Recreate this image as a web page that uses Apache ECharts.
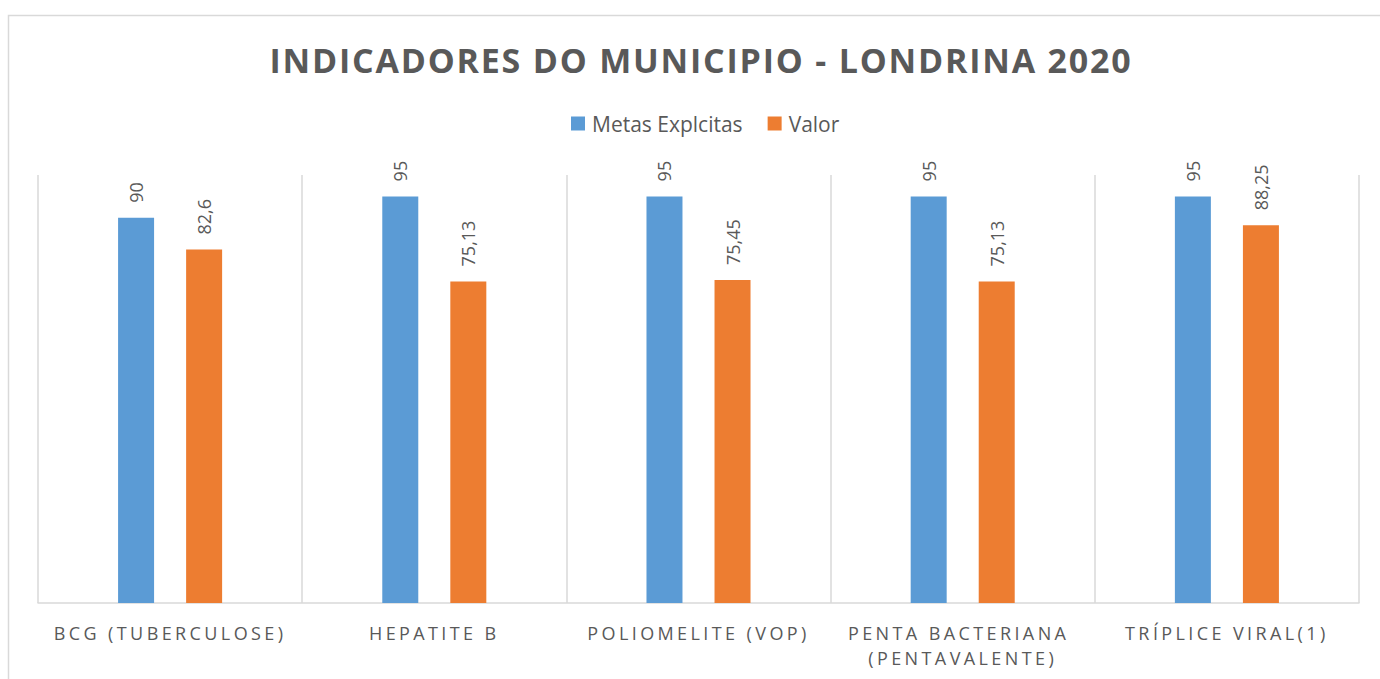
<!DOCTYPE html>
<html>
<head>
<meta charset="utf-8">
<script src="https://cdn.jsdelivr.net/npm/echarts@6/dist/echarts.min.js"></script>
<style>
	html, body { margin: 0; padding: 0; background: #fff; }
	#chart { width: 1380px; height: 679px; }
</style>
</head>
<body>
<div id="chart"></div>
<script>
// chart data
var titleText = 'INDICADORES DO MUNICIPIO - LONDRINA 2020';
var categories = ['BCG (TUBERCULOSE)', 'HEPATITE B', 'POLIOMELITE (VOP)', 'PENTA BACTERIANA (PENTAVALENTE)', 'TRÍPLICE VIRAL(1)'];
var seriesNames = ['Metas Explcitas', 'Valor'];
var metas = [90, 95, 95, 95, 95];
var valores = [82.6, 75.13, 75.45, 75.13, 88.25];

var textColor = '#595959';
var lineColor = '#d9d9d9';

// numbers use a comma as decimal separator
function fmt(params) {
	return String(params.value).replace('.', ',');
}

function barLabel() {
	return {
		show: true,
		position: 'top',
		rotate: 90,
		align: 'left',
		verticalAlign: 'middle',
		distance: 15,
		color: textColor,
		fontFamily: 'Open Sans',
		fontSize: 18,
		formatter: fmt
	};
}

var chart = echarts.init(document.getElementById('chart'), null, { renderer: 'svg' });

chart.setOption({
	animation: false,
	title: {
		text: titleText,
		left: 696,
		textAlign: 'center',
		top: 38,
		textStyle: {
			color: textColor,
			fontFamily: 'Open Sans',
			fontWeight: 'bold',
			fontSize: 34
		}
	},
	legend: {
		top: 108,
		left: 566,
		itemWidth: 14,
		itemHeight: 14,
		itemGap: 25,
		icon: 'rect',
		textStyle: {
			color: textColor,
			fontFamily: 'Open Sans',
			fontSize: 21,
			padding: [0, 0, 0, 2]
		},
		data: seriesNames
	},
	grid: {
		left: 38,
		right: 21,
		top: 175,
		bottom: 76,
		containLabel: false
	},
	xAxis: {
		type: 'category',
		data: categories,
		axisLine: { lineStyle: { color: lineColor, width: 1.5 } },
		axisTick: { show: false },
		splitLine: { show: true, lineStyle: { color: lineColor, width: 1.5 } },
		axisLabel: {
			interval: 0,
			margin: 17,
			color: textColor,
			fontFamily: 'Open Sans',
			fontSize: 18,
			lineHeight: 25,
			width: 240,
			overflow: 'break'
		}
	},
	yAxis: {
		type: 'value',
		min: 0,
		max: 100,
		show: false,
		splitLine: { show: false }
	},
	series: [
		{
			name: seriesNames[0],
			type: 'bar',
			data: metas,
			barWidth: 36,
			barGap: '89%',
			itemStyle: { color: '#5b9bd5' },
			label: barLabel()
		},
		{
			name: seriesNames[1],
			type: 'bar',
			data: valores,
			barWidth: 36,
			itemStyle: { color: '#ed7d31' },
			label: barLabel()
		}
	],
	graphic: [
		{
			type: 'rect',
			silent: true,
			z: -10,
			shape: { x: 8.5, y: 15.5, width: 1400, height: 700 },
			style: { fill: 'none', stroke: lineColor, lineWidth: 1.5 }
		}
	]
});

// the original chart spreads the letters of the title and the category names
var allCategories = categories.join(' ');
function spreadLetters() {
	var texts = document.querySelectorAll('#chart svg text');
	texts.forEach(function (t) {
		var s = t.textContent;
		if (s === titleText) {
			t.style.letterSpacing = '1.8px';
		} else if (s.length > 2 && allCategories.indexOf(s) >= 0) {
			t.style.letterSpacing = '3.4px';
		}
	});
}
chart.on('finished', spreadLetters);
spreadLetters();

window.addEventListener('resize', function () {
	chart.resize();
});
</script>
</body>
</html>
